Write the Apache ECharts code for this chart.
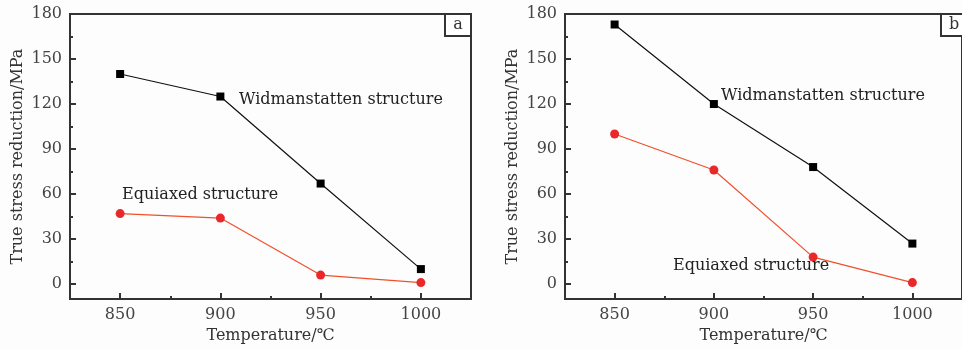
<!DOCTYPE html>
<html>
<head>
<meta charset="utf-8">
<script src="https://cdn.jsdelivr.net/npm/echarts@6/dist/echarts.min.js"></script>
<style>
html,body{margin:0;padding:0;background:#fdfdfd;}
#c{width:962px;height:349px;}
</style>
</head>
<body>
<div id="c"></div>
<script>
// Data
const temperatures = [850, 900, 950, 1000];
const widA = [140, 125, 67, 10];
const equA = [47, 44, 6, 1];
const widB = [173, 120, 78, 27];
const equB = [100, 76, 18, 1];
const xMajorTicks = [850, 900, 950, 1000];
const xMinorTicks = [875, 925, 975];
const yMajorTicks = [0, 30, 60, 90, 120, 150, 180];
const yMinorTicks = [15, 45, 75, 105, 135, 165];
const panelLetters = ['a', 'b'];
const seriesNames = ['Widmanstatten structure', 'Equiaxed structure'];
const xTitle = 'Temperature/\u2103';
const yTitle = 'True stress reduction/MPa';

const FONT = 'DejaVu Serif';
const AX = '#333';
const FS = 16;

function pairs(vals){ return temperatures.map((t,i)=>[t, vals[i]]); }

const grids = [
  {left:70, top:14, width:401, height:287},
  {left:565, top:14, width:452, height:287}
];

const xAxes = [], yAxes = [], series = [];
grids.forEach((g, gi) => {
  xAxes.push({
    type:'value', gridIndex:gi, min:825, max:1025, position:'bottom',
    name: xTitle, nameLocation:'middle', nameGap:25,
    nameTextStyle:{fontFamily:FONT, fontSize:FS, color:'#333'},
    axisLine:{show:true, onZero:false, lineStyle:{color:AX, width:2}},
    axisTick:{show:true, inside:true, length:6, lineStyle:{color:AX, width:2}, customValues:xMajorTicks},
    axisLabel:{fontFamily:FONT, fontSize:FS, color:'#444', margin:8, customValues:xMajorTicks, formatter:v=>String(v)},
    splitLine:{show:false}
  });
  xAxes.push({
    type:'value', gridIndex:gi, min:825, max:1025, position:'bottom',
    axisLine:{show:false, onZero:false},
    axisTick:{show:true, inside:true, length:3, lineStyle:{color:AX, width:2}, customValues:xMinorTicks},
    axisLabel:{show:false},
    splitLine:{show:false}
  });
  yAxes.push({
    type:'value', gridIndex:gi, min:-10, max:180, position:'left',
    name: yTitle, nameLocation:'middle', nameGap:44, nameRotate:90,
    nameTextStyle:{fontFamily:FONT, fontSize:FS, color:'#333'},
    axisLine:{show:true, onZero:false, lineStyle:{color:AX, width:2}},
    axisTick:{show:true, inside:true, length:6, lineStyle:{color:AX, width:2}, customValues:yMajorTicks},
    axisLabel:{fontFamily:FONT, fontSize:FS, color:'#444', margin:8, customValues:yMajorTicks, formatter:v=>String(v)},
    splitLine:{show:false}
  });
  yAxes.push({
    type:'value', gridIndex:gi, min:-10, max:180, position:'left',
    axisLine:{show:false, onZero:false},
    axisTick:{show:true, inside:true, length:3, lineStyle:{color:AX, width:2}, customValues:yMinorTicks},
    axisLabel:{show:false},
    splitLine:{show:false}
  });
});

const dataSets = [[widA, equA],[widB, equB]];
dataSets.forEach((ds, gi) => {
  series.push({
    type:'line', name:seriesNames[0], xAxisIndex:gi*2, yAxisIndex:gi*2,
    data:pairs(ds[0]), symbol:'rect', symbolSize:8,
    lineStyle:{color:'#111', width:1.2}, itemStyle:{color:'#000'},
    animation:false, z:3
  });
  series.push({
    type:'line', name:seriesNames[1], xAxisIndex:gi*2, yAxisIndex:gi*2,
    data:pairs(ds[1]), symbol:'circle', symbolSize:9,
    lineStyle:{color:'#f0502a', width:1.2}, itemStyle:{color:'#e8282b'},
    animation:false, z:3
  });
});

const txt = (x, y, s) => ({type:'text', left:x, top:y, style:{text:s, font:FS + 'px "DejaVu Serif"', fill:'#222'}, z:10});

const graphic = [
  txt(239, 92, seriesNames[0]),
  txt(122, 187, seriesNames[1]),
  txt(721, 88, seriesNames[0]),
  txt(673, 258, seriesNames[1]),
  {type:'rect', shape:{x:445, y:14, width:26, height:22}, style:{fill:'#fff', stroke:AX, lineWidth:2}, z:10},
  {type:'text', x:458, y:25, style:{text:panelLetters[0], font:FS + 'px "DejaVu Serif"', fill:'#333', align:'center', verticalAlign:'middle'}, z:11},
  {type:'rect', shape:{x:941, y:14, width:30, height:22}, style:{fill:'#fff', stroke:AX, lineWidth:2}, z:10},
  {type:'text', x:954, y:25, style:{text:panelLetters[1], font:FS + 'px "DejaVu Serif"', fill:'#333', align:'center', verticalAlign:'middle'}, z:11}
];

const gridOpts = grids.map(g => Object.assign({show:true, borderColor:AX, borderWidth:2, backgroundColor:'#fdfdfd'}, g));

const chart = echarts.init(document.getElementById('c'), null, {renderer:'canvas'});
chart.setOption({
  backgroundColor:'#fdfdfd',
  animation:false,
  grid:gridOpts,
  xAxis:xAxes,
  yAxis:yAxes,
  series:series,
  graphic:graphic
});
</script>
</body>
</html>
